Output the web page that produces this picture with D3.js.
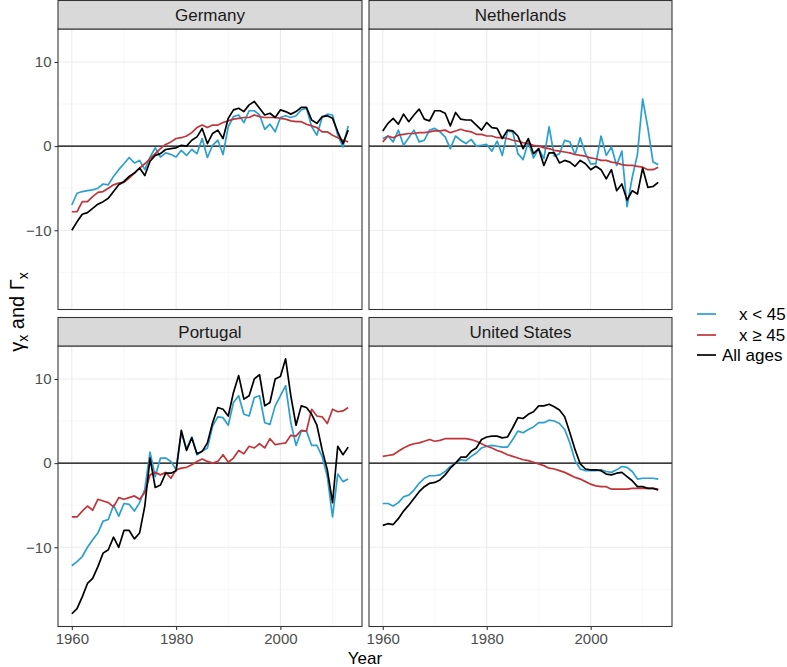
<!DOCTYPE html>
<html><head><meta charset="utf-8">
<script src="https://cdn.jsdelivr.net/npm/d3@7"></script>
<style>
body{margin:0;background:#fff;}
svg{display:block;font-family:"Liberation Sans",Arial,sans-serif;}
</style></head>
<body><svg id="chart" width="787" height="667"></svg>
<script>
const years = d3.range(1960, 2014);
const countries = ["Germany", "Netherlands", "Portugal", "United States"];
const seriesNames = ["x < 45", "x \u2265 45", "All ages"];
const seriesColors = ["#2b9fd0", "#c1353a", "#000000"];
const xTicks = [1960, 1980, 2000];
const yTicks = [-10, 0, 10];

const germanyUnder45 = [-7.0,-5.6,-5.4,-5.3,-5.2,-5.0,-4.5,-4.6,-3.6,-2.8,-2.1,-1.35,-2.0,-1.7,-2.8,-1.3,-0.2,-1.3,-0.8,-1.0,-1.3,-0.5,-1.1,-0.4,-0.9,0.9,-1.35,0.1,0.7,-1.0,2.3,3.5,3.7,2.8,4.2,4.2,3.7,2.0,2.6,1.7,3.4,3.6,3.4,3.6,4.3,4.5,2.3,1.3,3.4,3.8,3.7,1.3,-0.1,2.4];
const germanyOver45 = [-7.8,-7.8,-6.6,-6.6,-6.0,-5.5,-5.4,-5.0,-4.6,-4.4,-4.3,-3.8,-3.2,-2.6,-2.1,-1.5,-0.9,-0.3,0.2,0.5,0.9,1.0,1.2,1.6,2.2,2.5,2.2,2.5,2.5,2.8,3.0,3.2,3.3,3.4,3.4,3.7,3.5,3.4,3.4,3.4,3.3,3.2,3.0,2.9,2.9,2.6,2.4,2.2,1.7,1.7,1.3,1.0,0.7,0.5];
const germanyAll = [-10.0,-9.0,-8.1,-7.9,-7.4,-6.9,-6.6,-6.2,-5.4,-4.6,-4.2,-3.6,-3.2,-2.6,-3.5,-1.8,-1.1,-0.9,-0.4,-0.3,-0.2,0.1,0.0,0.7,1.1,2.1,0.3,1.5,1.9,0.9,3.3,4.3,4.5,4.1,4.9,5.3,4.5,3.7,3.9,3.4,4.3,4.1,3.8,4.1,4.6,4.6,3.1,2.7,3.5,3.6,3.3,1.7,0.3,1.9];

const netherlandsUnder45 = [0.9,1.2,0.5,1.9,0.1,1.0,1.9,0.5,0.7,1.9,2.1,1.7,1.1,-0.3,1.2,0.7,0.3,0.8,0.0,0.1,0.2,-0.6,0.6,-1.1,1.8,1.7,-0.9,-1.6,0.5,-1.4,-0.3,-1.5,2.3,-1.2,-0.9,0.7,0.5,-1.0,1.0,-0.9,-2.1,-2.1,1.2,-1.1,-0.1,-2.3,-0.6,-7.2,-3.7,-1.0,5.6,2.2,-1.9,-2.2];
const netherlandsOver45 = [0.5,1.2,1.0,1.3,1.4,1.5,1.5,1.6,1.6,1.7,1.8,1.8,1.9,1.6,1.8,2.0,1.8,1.7,1.4,1.4,1.2,1.2,1.0,1.0,0.9,0.7,0.6,0.4,0.3,0.1,0.0,-0.2,-0.3,-0.5,-0.6,-0.7,-0.8,-1.0,-1.1,-1.2,-1.4,-1.5,-1.7,-1.7,-1.9,-2.0,-2.2,-2.3,-2.3,-2.4,-2.5,-2.8,-2.8,-2.5];
const netherlandsAll = [1.8,2.7,3.3,2.6,3.8,2.9,3.7,4.4,3.2,3.0,4.2,4.2,3.9,2.4,4.0,3.2,3.1,3.1,2.5,1.9,2.8,2.2,2.1,0.9,1.9,1.8,1.2,-0.3,0.9,-0.9,-0.3,-2.3,-0.8,-0.8,-2.0,-1.7,-1.9,-2.4,-1.7,-2.1,-2.8,-2.4,-2.8,-3.9,-2.8,-5.3,-4.5,-6.4,-5.3,-5.7,-2.6,-4.9,-4.8,-4.3];

const portugalUnder45 = [-12.2,-11.7,-11.1,-10.0,-9.1,-8.3,-6.9,-6.7,-5.0,-6.3,-4.8,-4.9,-5.7,-4.7,-3.1,1.3,-1.6,0.6,0.6,0.2,-0.8,3.6,1.7,3.1,1.0,1.4,1.8,4.4,5.5,5.4,4.5,7.2,8.0,5.8,5.6,7.8,8.0,4.8,4.6,6.8,8.0,9.2,4.8,2.1,3.8,3.8,2.1,2.1,0.8,-1.6,-6.4,-1.3,-2.2,-1.9];
const portugalOver45 = [-6.4,-6.4,-5.7,-5.1,-5.6,-4.3,-4.5,-4.7,-5.2,-4.1,-4.3,-4.1,-3.9,-4.3,-3.5,-1.4,-1.1,-1.4,-1.1,-1.8,-0.8,-0.6,-0.5,-0.2,0.2,0.5,0.2,0.0,0.2,1.0,0.1,0.6,1.5,1.1,2.0,1.8,2.3,1.8,2.9,2.2,2.3,2.4,3.3,3.2,3.9,3.8,6.4,5.6,5.5,4.7,6.4,6.1,6.2,6.6];
const portugalAll = [-17.9,-17.3,-15.9,-14.3,-13.7,-12.3,-10.7,-10.3,-8.8,-10.0,-8.0,-8.0,-9.0,-8.3,-5.1,0.6,-2.9,-2.6,-1.2,-1.2,-0.9,3.9,1.5,3.0,1.1,1.4,2.4,4.8,6.6,6.4,5.6,8.4,10.4,7.6,8.0,10.0,10.5,6.8,7.2,10.0,10.3,12.4,8.0,4.5,6.8,6.6,5.8,4.5,1.6,-0.8,-4.7,2.0,1.0,1.9];

const usUnder45 = [-4.8,-4.8,-5.1,-4.7,-4.0,-3.8,-3.2,-2.4,-1.8,-1.5,-1.5,-1.4,-1.0,-0.4,0.0,0.4,0.3,0.8,1.2,1.8,2.0,2.1,2.0,1.9,1.9,2.8,3.8,3.6,4.0,4.3,4.8,4.8,5.1,5.0,4.7,4.0,2.4,0.3,-0.7,-0.9,-0.9,-0.9,-0.8,-1.0,-1.1,-0.8,-0.4,-0.5,-1.0,-1.9,-1.8,-1.8,-1.8,-1.9];
const usOver45 = [0.8,0.9,1.0,1.4,1.8,2.1,2.3,2.4,2.6,2.8,2.6,2.7,2.9,2.9,2.9,2.9,2.9,2.8,2.6,2.3,2.0,1.8,1.5,1.3,1.0,0.8,0.6,0.4,0.3,0.1,-0.1,-0.3,-0.6,-0.7,-0.9,-1.1,-1.4,-1.7,-1.9,-2.2,-2.5,-2.7,-2.8,-2.8,-3.1,-3.1,-3.1,-3.1,-3.0,-3.0,-3.0,-3.0,-3.0,-3.1];
const usAll = [-7.4,-7.2,-7.3,-6.6,-5.7,-5.0,-4.2,-3.4,-2.8,-2.4,-2.3,-2.0,-1.4,-0.6,0.0,0.7,0.7,1.4,1.8,2.8,3.1,3.2,3.2,3.0,3.1,4.2,5.4,5.3,5.8,6.1,6.8,6.8,7.0,6.7,6.3,5.5,3.6,1.6,-0.1,-0.7,-0.8,-0.8,-0.9,-1.3,-1.4,-1.2,-1.1,-1.6,-2.1,-2.8,-2.8,-3.0,-3.0,-3.2];

const panelData = [
  [germanyUnder45, germanyOver45, germanyAll],
  [netherlandsUnder45, netherlandsOver45, netherlandsAll],
  [portugalUnder45, portugalOver45, portugalAll],
  [usUnder45, usOver45, usAll]
];

const svg = d3.select("#chart");
const colsX = [[58, 362], [369, 672]];
const rowsY = [{strip: 0.5, top: 29, bottom: 309.5}, {strip: 317.5, top: 346, bottom: 626.5}];

// domains with ggplot-like 5% expansion
const allVals = panelData.flat(2);
const yMin = d3.min(allVals), yMax = d3.max(allVals);
const yPad = (yMax - yMin) * 0.05;
const xPad = (2013 - 1960) * 0.05;

const minorX = [1970, 1990, 2010];
const minorY = [-15, -5, 5];

countries.forEach((name, i) => {
  const col = i % 2, row = Math.floor(i / 2);
  const [x0, x1] = colsX[col];
  const R = rowsY[row];
  const x = d3.scaleLinear().domain([1960 - xPad, 2013 + xPad]).range([x0, x1]);
  const y = d3.scaleLinear().domain([yMin - yPad, yMax + yPad]).range([R.bottom, R.top]);
  const g = svg.append("g");

  g.append("rect").attr("x", x0).attr("y", R.top).attr("width", x1 - x0).attr("height", R.bottom - R.top).attr("fill", "#fff");
  minorX.forEach(v => g.append("line").attr("x1", x(v)).attr("x2", x(v)).attr("y1", R.top).attr("y2", R.bottom).attr("stroke", "#f2f2f2").attr("stroke-width", 0.6));
  minorY.forEach(v => g.append("line").attr("x1", x0).attr("x2", x1).attr("y1", y(v)).attr("y2", y(v)).attr("stroke", "#f2f2f2").attr("stroke-width", 0.6));
  xTicks.forEach(v => g.append("line").attr("x1", x(v)).attr("x2", x(v)).attr("y1", R.top).attr("y2", R.bottom).attr("stroke", "#ebebeb").attr("stroke-width", 1.07));
  yTicks.forEach(v => g.append("line").attr("x1", x0).attr("x2", x1).attr("y1", y(v)).attr("y2", y(v)).attr("stroke", "#ebebeb").attr("stroke-width", 1.07));

  g.append("line").attr("x1", x0).attr("x2", x1).attr("y1", y(0)).attr("y2", y(0)).attr("stroke", "#000").attr("stroke-width", 1.4);

  const line = d3.line().x((d, k) => x(years[k])).y(d => y(d));
  panelData[i].forEach((vals, s) => {
    g.append("path").datum(vals).attr("d", line).attr("fill", "none")
      .attr("stroke", seriesColors[s]).attr("stroke-width", 1.7).attr("stroke-linejoin", "round");
  });

  g.append("rect").attr("x", x0).attr("y", R.top).attr("width", x1 - x0).attr("height", R.bottom - R.top)
    .attr("fill", "none").attr("stroke", "#333").attr("stroke-width", 1.07);
  g.append("rect").attr("x", x0).attr("y", R.strip).attr("width", x1 - x0).attr("height", R.top - R.strip)
    .attr("fill", "#d9d9d9").attr("stroke", "#333").attr("stroke-width", 1.07);
  g.append("text").attr("x", (x0 + x1) / 2).attr("y", (R.strip + R.top) / 2).attr("dy", "0.36em")
    .attr("text-anchor", "middle").attr("font-size", 17).attr("fill", "#1a1a1a").text(name);

  if (col === 0) {
    const ax = g.append("g").attr("transform", `translate(${x0},0)`)
      .call(d3.axisLeft(y).tickValues(yTicks).tickSize(3.5).tickPadding(3).tickFormat(d => d < 0 ? "\u2212" + Math.abs(d) : d));
    ax.select(".domain").remove();
    ax.selectAll("line").attr("stroke", "#333").attr("stroke-width", 1.07);
    ax.selectAll("text").attr("font-size", 15).attr("fill", "#4d4d4d").attr("font-family", "Liberation Sans, Arial, sans-serif");
  }
  if (row === 1) {
    const ax = g.append("g").attr("transform", `translate(0,${R.bottom})`)
      .call(d3.axisBottom(x).tickValues(xTicks).tickSize(3.5).tickPadding(3).tickFormat(d3.format("d")));
    ax.select(".domain").remove();
    ax.selectAll("line").attr("stroke", "#333").attr("stroke-width", 1.07);
    ax.selectAll("text").attr("font-size", 15).attr("fill", "#4d4d4d").attr("font-family", "Liberation Sans, Arial, sans-serif");
  }
});

svg.append("text").attr("x", 365).attr("y", 664).attr("text-anchor", "middle")
  .attr("font-size", 17).attr("fill", "#000").text("Year");

const yt = svg.append("text").attr("transform", "translate(24,312) rotate(-90)").attr("text-anchor", "middle")
  .attr("font-size", 20).attr("fill", "#000");
yt.append("tspan").text("\u03b3");
yt.append("tspan").attr("font-size", 14).attr("dy", 4).text("x");
yt.append("tspan").attr("dy", -4).text(" and \u0393");
yt.append("tspan").attr("font-size", 14).attr("dy", 4).text("x");

const legY = [314, 335, 355];
const legTextX = [739, 739, 722];
seriesNames.forEach((n, s) => {
  svg.append("line").attr("x1", 697).attr("x2", 716).attr("y1", legY[s]).attr("y2", legY[s])
    .attr("stroke", seriesColors[s]).attr("stroke-width", 1.7);
  svg.append("text").attr("x", legTextX[s]).attr("y", legY[s]).attr("dy", "0.36em")
    .attr("font-size", 17).attr("fill", "#000").text(n);
});
</script></body></html>
